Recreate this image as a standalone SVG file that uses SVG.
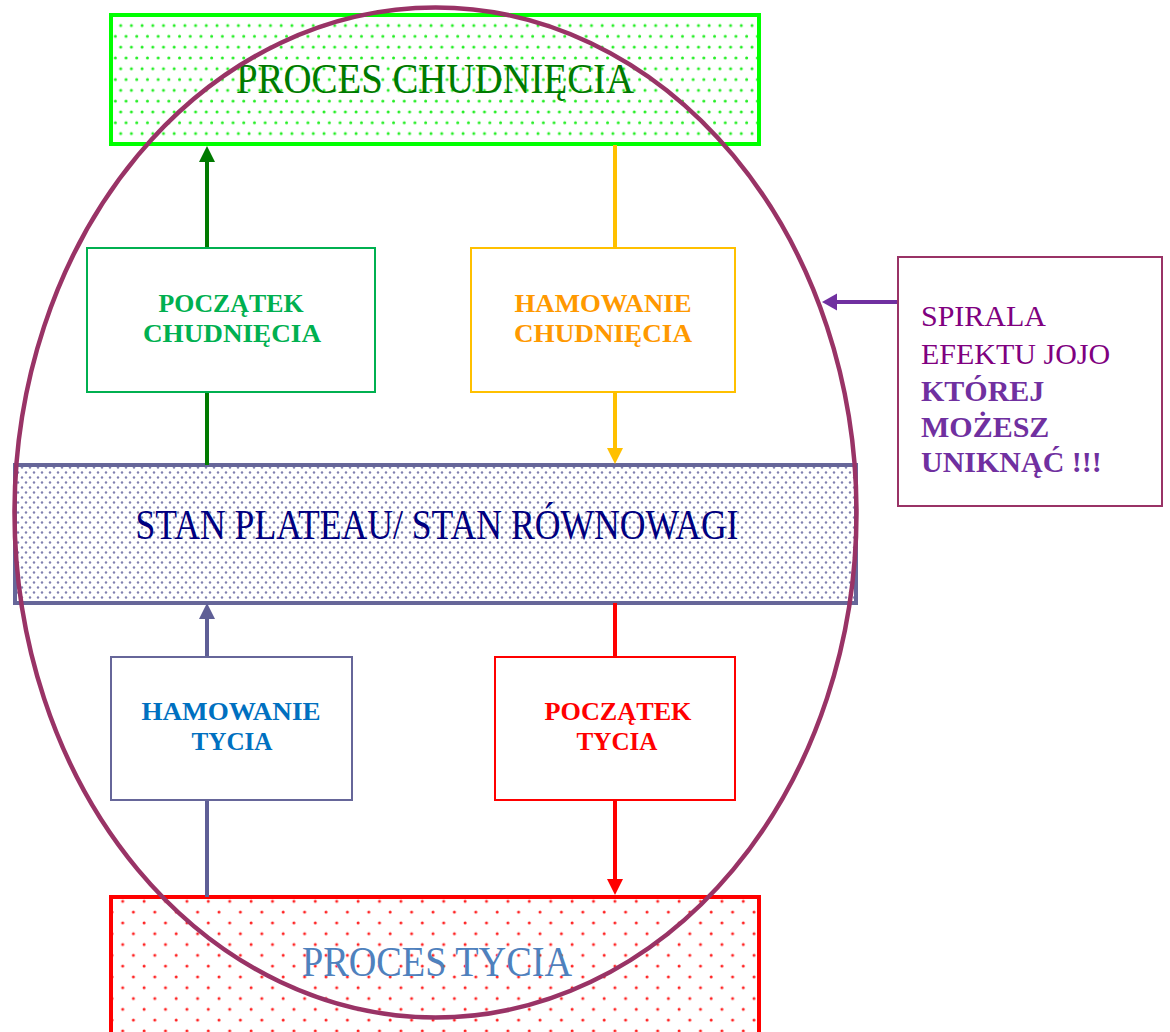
<svg xmlns="http://www.w3.org/2000/svg" width="1170" height="1032" viewBox="0 0 1170 1032">
  <defs>
    <pattern id="dotsGreen" patternUnits="userSpaceOnUse" width="10.7" height="21.6">
      <rect width="10.7" height="21.6" fill="#ffffff"/>
      <circle cx="3" cy="4" r="1.5" fill="#22ee22"/>
      <circle cx="8.35" cy="14.8" r="1.5" fill="#22ee22"/>
    </pattern>
    <pattern id="dotsRed" patternUnits="userSpaceOnUse" width="21.4" height="21.6">
      <rect width="21.4" height="21.6" fill="#ffffff"/>
      <circle cx="5" cy="5" r="1.5" fill="#ff2222"/>
      <circle cx="15.7" cy="15.8" r="1.5" fill="#ff2222"/>
    </pattern>
    <pattern id="dotsBlue" patternUnits="userSpaceOnUse" width="8" height="10">
      <rect width="8" height="10" fill="#ffffff"/>
      <circle cx="2" cy="2.5" r="1.2" fill="#8080b0"/>
      <circle cx="6" cy="7.5" r="1.2" fill="#8080b0"/>
    </pattern>
    <marker id="ahGreen" markerUnits="userSpaceOnUse" markerWidth="17" markerHeight="17" refX="5" refY="8" orient="auto">
      <path d="M0,0 L16,8 L0,16 Z" fill="#007a00"/>
    </marker>
    <marker id="ahOrange" markerUnits="userSpaceOnUse" markerWidth="17" markerHeight="17" refX="5" refY="8" orient="auto">
      <path d="M0,0 L16,8 L0,16 Z" fill="#ffc000"/>
    </marker>
    <marker id="ahBlue" markerUnits="userSpaceOnUse" markerWidth="17" markerHeight="17" refX="5" refY="8" orient="auto">
      <path d="M0,0 L16,8 L0,16 Z" fill="#5f5f96"/>
    </marker>
    <marker id="ahRed" markerUnits="userSpaceOnUse" markerWidth="17" markerHeight="17" refX="5" refY="8" orient="auto">
      <path d="M0,0 L16,8 L0,16 Z" fill="#ff0000"/>
    </marker>
    <marker id="ahPurple" markerUnits="userSpaceOnUse" markerWidth="18" markerHeight="18" refX="5" refY="8.5" orient="auto">
      <path d="M0,0 L15,8.5 L0,17 Z" fill="#7030a0"/>
    </marker>
  </defs>
  <style>
    .big { font-family: "Liberation Serif", "DejaVu Serif", serif; font-size: 42px; text-anchor: middle; }
    .small { font-family: "Liberation Serif", "DejaVu Serif", serif; font-size: 25px; font-weight: bold; text-anchor: middle; }
    .side { font-family: "Liberation Serif", "DejaVu Serif", serif; font-size: 30px; }
    .conn { fill: none; stroke-width: 4; }
  </style>
  <rect width="1170" height="1032" fill="#ffffff"/>

  <g id="proces-chudniecia">
    <rect x="111" y="15" width="648" height="129" fill="url(#dotsGreen)" stroke="#00ff00" stroke-width="4"/>
    <text class="big" x="435" y="93" fill="#007a00" textLength="398" lengthAdjust="spacingAndGlyphs">PROCES CHUDNIĘCIA</text>
  </g>

  <g id="stan-plateau">
    <rect x="15" y="465" width="841" height="138" fill="url(#dotsBlue)" stroke="#666699" stroke-width="4"/>
    <text class="big" x="437" y="539" font-size="40" fill="#000080" textLength="603" lengthAdjust="spacingAndGlyphs">STAN PLATEAU/ STAN RÓWNOWAGI</text>
  </g>

  <g id="proces-tycia">
    <rect x="111" y="897" width="648" height="140" fill="url(#dotsRed)" stroke="#ff0000" stroke-width="4"/>
    <text class="big" x="437" y="976" fill="#4f81bd" textLength="270" lengthAdjust="spacingAndGlyphs">PROCES TYCIA</text>
  </g>

  <g id="connectors">
    <line class="conn" x1="207" y1="465" x2="207" y2="157" stroke="#007a00" marker-end="url(#ahGreen)"/>
    <line class="conn" x1="615" y1="145" x2="615" y2="453" stroke="#ffc000" marker-end="url(#ahOrange)"/>
    <line class="conn" x1="207" y1="897" x2="207" y2="614" stroke="#5f5f96" marker-end="url(#ahBlue)"/>
    <line class="conn" x1="615" y1="603" x2="615" y2="884" stroke="#ff0000" marker-end="url(#ahRed)"/>
    <line class="conn" x1="898" y1="302" x2="832" y2="302" stroke="#7030a0" stroke-width="2.5" marker-end="url(#ahPurple)"/>
  </g>

  <g id="poczatek-chudniecia">
    <rect x="87" y="248" width="288" height="144" fill="#ffffff" stroke="#00b050" stroke-width="2"/>
    <text class="small" x="231" y="312" fill="#00b050" textLength="145" lengthAdjust="spacingAndGlyphs">POCZĄTEK</text>
    <text class="small" x="232" y="342" fill="#00b050" textLength="178" lengthAdjust="spacingAndGlyphs">CHUDNIĘCIA</text>
  </g>

  <g id="hamowanie-chudniecia">
    <rect x="471" y="248" width="264" height="144" fill="#ffffff" stroke="#ffc000" stroke-width="2"/>
    <text class="small" x="603" y="312" fill="#ff9900" textLength="177" lengthAdjust="spacingAndGlyphs">HAMOWANIE</text>
    <text class="small" x="603" y="342" fill="#ff9900" textLength="178" lengthAdjust="spacingAndGlyphs">CHUDNIĘCIA</text>
  </g>

  <g id="hamowanie-tycia">
    <rect x="111" y="657" width="241" height="143" fill="#ffffff" stroke="#666699" stroke-width="2"/>
    <text class="small" x="231" y="720" fill="#0070c0" textLength="179" lengthAdjust="spacingAndGlyphs">HAMOWANIE</text>
    <text class="small" x="232" y="750" fill="#0070c0" textLength="81" lengthAdjust="spacingAndGlyphs">TYCIA</text>
  </g>

  <g id="poczatek-tycia">
    <rect x="495" y="657" width="240" height="143" fill="#ffffff" stroke="#ff0000" stroke-width="2"/>
    <text class="small" x="618" y="720" fill="#ff0000" textLength="147" lengthAdjust="spacingAndGlyphs">POCZĄTEK</text>
    <text class="small" x="617" y="750" fill="#ff0000" textLength="81" lengthAdjust="spacingAndGlyphs">TYCIA</text>
  </g>

  <g id="spirala">
    <ellipse cx="435.5" cy="512.5" rx="421" ry="505" fill="none" stroke="#993366" stroke-width="4.5"/>
  </g>

  <g id="spirala-opis">
    <rect x="898" y="257" width="264" height="249" fill="#ffffff" stroke="#993366" stroke-width="2"/>
    <text class="side" x="921" y="326" fill="#800080">SPIRALA</text>
    <text class="side" x="921" y="364" fill="#800080">EFEKTU JOJO</text>
    <text class="side" x="921" y="401" fill="#7030a0" font-weight="bold">KTÓREJ</text>
    <text class="side" x="921" y="437" fill="#7030a0" font-weight="bold">MOŻESZ</text>
    <text class="side" x="921" y="472" fill="#7030a0" font-weight="bold">UNIKNĄĆ !!!</text>
  </g>
</svg>
